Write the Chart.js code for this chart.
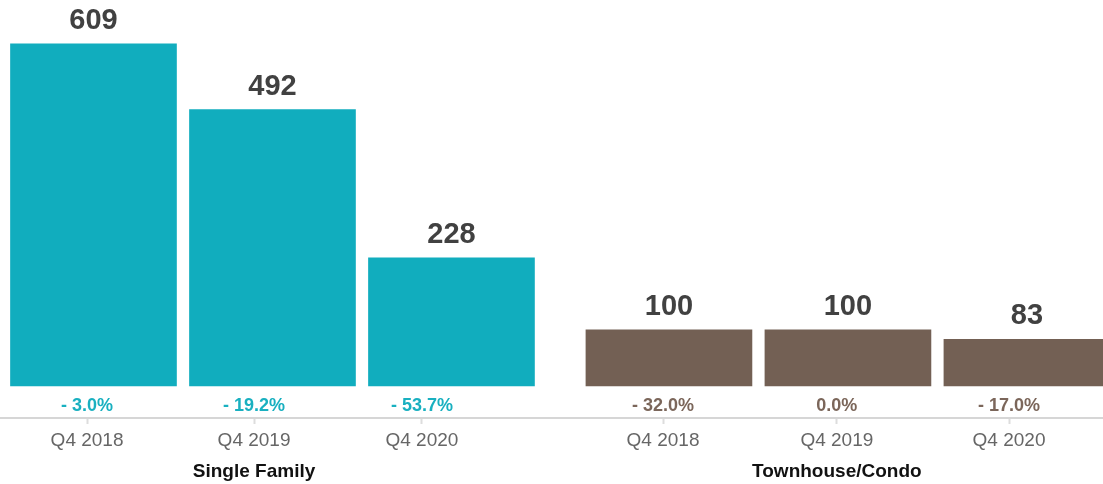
<!DOCTYPE html>
<html>
<head>
<meta charset="utf-8">
<script src="https://cdn.jsdelivr.net/npm/chart.js@4"></script>
<style>
  body { margin: 0; background: #fff; }
  #wrap { width: 1103px; height: 484px; }
</style>
</head>
<body>
<div id="wrap"><canvas id="chart"></canvas></div>
<script>
// data
const quarters = ['Q4 2018', 'Q4 2019', 'Q4 2020'];
const groups = ['Single Family', 'Townhouse/Condo'];
const singleFamily = [609, 492, 228];
const townhouse = [100, 100, 83];
const singleFamilyChange = [-3.0, -19.2, -53.7];
const townhouseChange = [-32.0, 0.0, -17.0];

const barColors = ['#11adbe', '#736054'];
const pctColors = ['#19b0c0', '#7b665a'];

// layout: bar slots on a linear axis, gap between the two groups
const groupGap = 0.215;
const tickPos = [-0.036, 0.897, 1.835, 3.182, 4.153, 5.115];
const groupPos = [tickPos[1], tickPos[4]];

function slot(g, i) { return g * (quarters.length + groupGap) + i; }

function fmtPct(v) {
  if (v < 0) return '- ' + Math.abs(v).toFixed(1) + '%';
  return v.toFixed(1) + '%';
}

const allChanges = [singleFamilyChange, townhouseChange];

Chart.defaults.font.family = '"Liberation Sans", Arial, sans-serif';

const labelPlugin = {
  id: 'barLabels',
  afterDatasetsDraw(chart) {
    const ctx = chart.ctx;
    const xs = chart.scales.x;
    ctx.save();
    ctx.textAlign = 'center';
    ctx.textBaseline = 'alphabetic';
    chart.data.datasets.forEach((ds, g) => {
      const meta = chart.getDatasetMeta(g);
      meta.data.forEach((bar, i) => {
        ctx.font = 'bold 29px "Liberation Sans", Arial, sans-serif';
        ctx.fillStyle = '#414141';
        ctx.fillText(String(ds.data[i].y), bar.x, bar.y - 15);
        ctx.font = 'bold 18px "Liberation Sans", Arial, sans-serif';
        ctx.fillStyle = pctColors[g];
        const px = xs.getPixelForValue(tickPos[g * quarters.length + i]);
        ctx.fillText(fmtPct(allChanges[g][i]), px, bar.base + 25);
      });
    });
    ctx.restore();
  }
};

new Chart(document.getElementById('chart'), {
  type: 'bar',
  data: {
    datasets: [
      {
        label: groups[0],
        data: singleFamily.map((v, i) => ({ x: slot(0, i), y: v })),
        backgroundColor: barColors[0]
      },
      {
        label: groups[1],
        data: townhouse.map((v, i) => ({ x: slot(1, i), y: v })),
        backgroundColor: barColors[1]
      }
    ]
  },
  options: {
    responsive: true,
    maintainAspectRatio: false,
    animation: false,
    grouped: false,
    barThickness: 166,
    layout: { padding: 0 },
    plugins: {
      legend: { display: false },
      tooltip: { enabled: false }
    },
    scales: {
      y: {
        display: false,
        min: -57,
        max: 687
      },
      x: {
        type: 'linear',
        position: 'bottom',
        bounds: 'data',
        offset: false,
        min: -0.5223,
        max: 5.64,
        weight: 0,
        afterBuildTicks: (s) => { s.ticks = tickPos.map(v => ({ value: v })); },
        afterFit: (s) => { s.height = 40; },
        grid: {
          offset: false,
          drawOnChartArea: false,
          drawTicks: true,
          tickLength: 6,
          tickWidth: 2,
          tickColor: '#dddddd'
        },
        border: { color: '#d6d6d6', width: 2 },
        ticks: {
          autoSkip: false,
          maxRotation: 0,
          padding: 5,
          color: '#666666',
          font: { size: 19 },
          callback: (v, i) => quarters[i % quarters.length]
        }
      },
      xg: {
        type: 'linear',
        position: 'bottom',
        bounds: 'data',
        offset: false,
        min: -0.5223,
        max: 5.64,
        weight: 1,
        afterBuildTicks: (s) => { s.ticks = groupPos.map(v => ({ value: v })); },
        afterFit: (s) => { s.height = 26; },
        grid: { display: false, drawTicks: false, offset: false },
        border: { display: false },
        ticks: {
          autoSkip: false,
          maxRotation: 0,
          padding: 2,
          color: '#111111',
          font: { size: 19, weight: 'bold' },
          callback: (v, i) => groups[i]
        }
      }
    }
  },
  plugins: [labelPlugin]
});
</script>
</body>
</html>
